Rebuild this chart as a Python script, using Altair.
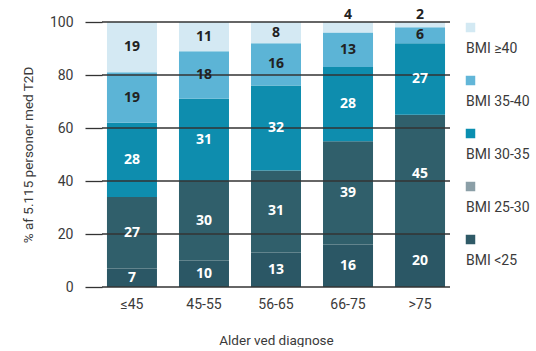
import altair as alt
import pandas as pd

age_groups = ["≤45", "45-55", "56-65", "66-75", ">75"]
bmi_groups = ["BMI <25", "BMI 25-30", "BMI 30-35", "BMI 35-40", "BMI ≥40"]
bmi_lt25 = [7, 10, 13, 16, 20]
bmi_25_30 = [27, 30, 31, 39, 45]
bmi_30_35 = [28, 31, 32, 28, 27]
bmi_35_40 = [19, 18, 16, 13, 6]
bmi_ge40 = [19, 11, 8, 4, 2]
y_ticks = [0, 20, 40, 60, 80, 100]

bar_colors = ["#2b5765", "#305f6b", "#0e8dae", "#5cb4d6", "#d4e9f3"]
legend_colors = ["#2f5a67", "#8b9fa7", "#0a8fb0", "#62b6d8", "#d3e9f3"]
label_colors = ["#ffffff", "#ffffff", "#ffffff", "#222222", "#222222"]

series = [bmi_lt25, bmi_25_30, bmi_30_35, bmi_35_40, bmi_ge40]
rows = []
for k, (g, vals) in enumerate(zip(bmi_groups, series)):
    for a, v in zip(age_groups, vals):
        rows.append({"age": a, "bmi": g, "order": k, "value": v})
df = pd.DataFrame(rows)

W, H = 348, 265
FONT = "Roboto"
TXT = "#3a3a3a"

x_enc = alt.X(
    "age:N",
    sort=age_groups,
    scale=alt.Scale(paddingInner=0.3056, paddingOuter=0.069),
    axis=alt.Axis(
        title="Alder ved diagnose", labelAngle=0, ticks=False, domain=False,
        labelPadding=10, labelFontSize=14, labelColor=TXT, labelFont=FONT,
        titleFont=FONT, titleFontSize=13.5, titleFontWeight="normal",
        titleColor=TXT, titlePadding=22,
    ),
)
y_scale = alt.Scale(domain=[0, 100], nice=False)

base = alt.Chart(df).transform_stack(
    stack="value", groupby=["age"],
    sort=[alt.SortField(field="order", order="ascending")],
    as_=["y0", "y1"],
).transform_calculate(
    lab="datum.value < 5 ? datum.y1 + 2.5 : (datum.y0 + datum.y1) / 2"
)

bars = base.mark_bar().encode(
    x=x_enc,
    y=alt.Y(
        "y0:Q", scale=y_scale,
        axis=alt.Axis(
            values=y_ticks, grid=False, domain=False, tickSize=17,
            tickColor="#333333", tickWidth=1.3, labelPadding=12,
            labelFontSize=14, labelColor=TXT, labelFont=FONT,
            title="% af 5.115 personer med T2D", titleFont=FONT,
            titleFontSize=13.5, titleFontWeight="normal", titleColor=TXT,
            titlePadding=14,
        ),
    ),
    y2="y1:Q",
    color=alt.Color("bmi:N", scale=alt.Scale(domain=bmi_groups, range=bar_colors), legend=None),
)

grid = alt.Chart(pd.DataFrame({"tick": y_ticks})).mark_rule(
    color="#333333", strokeWidth=1.3
).encode(y=alt.Y("tick:Q", scale=y_scale), x=alt.value(0), x2=alt.value(W))

labels = base.mark_text(font="Open Sans", fontWeight="bold", fontSize=14, baseline="middle").encode(
    x=alt.X("age:N", sort=age_groups),
    y=alt.Y("lab:Q", scale=y_scale),
    text="value:Q",
    color=alt.Color("bmi:N", scale=alt.Scale(domain=bmi_groups, range=label_colors), legend=None),
)

main = alt.layer(bars, grid, labels).resolve_scale(color="independent").properties(width=W, height=H)

leg_df = pd.DataFrame({"bmi": bmi_groups})
leg_y = alt.Y("bmi:N", sort=list(reversed(bmi_groups)),
              scale=alt.Scale(type="point", padding=0.5), axis=None)
swatches = alt.Chart(leg_df).mark_square(size=90, opacity=1, yOffset=-21).encode(
    y=leg_y, x=alt.value(4.5),
    color=alt.Color("bmi:N", scale=alt.Scale(domain=bmi_groups, range=legend_colors), legend=None),
)
leg_text = alt.Chart(leg_df).mark_text(
    align="left", baseline="middle", fontSize=14, font=FONT, color=TXT
).encode(y=leg_y, x=alt.value(0), text="bmi:N")
legend = alt.layer(swatches, leg_text).properties(width=68, height=H)

chart = alt.hconcat(main, legend, spacing=14).configure_view(stroke=None).properties(
    padding={"left": 21, "top": 8, "right": 0, "bottom": 0}
)

chart.save("out.html", embed_options={"renderer": "svg", "actions": False})
